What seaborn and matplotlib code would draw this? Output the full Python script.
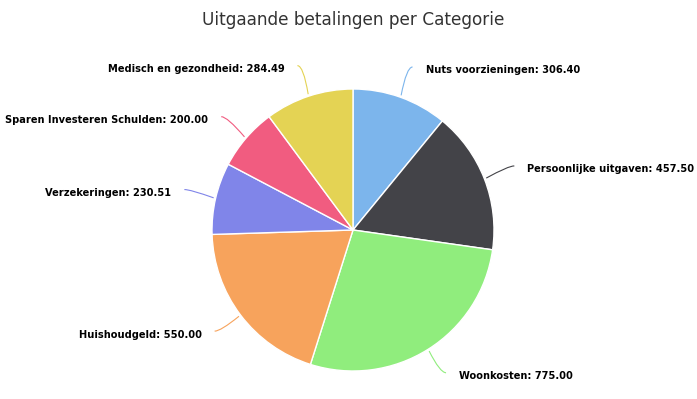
import numpy as np
import matplotlib
matplotlib.use("Agg")
import matplotlib.pyplot as plt
from matplotlib.path import Path
from matplotlib.patches import PathPatch
import seaborn as sns

categories = ["Nuts voorzieningen", "Persoonlijke uitgaven", "Woonkosten", "Huishoudgeld",
              "Verzekeringen", "Sparen Investeren Schulden", "Medisch en gezondheid"]
amounts = [306.40, 457.50, 775.00, 550.00, 230.51, 200.00, 284.49]
colors = ["#7cb5ec", "#434348", "#90ed7d", "#f7a35c", "#8085e9", "#f15c80", "#e4d354"]
title = "Uitgaande betalingen per Categorie"

sns.set_theme(style="white")
plt.rcParams['font.family'] = ['DejaVu Sans']

W, H = 697, 399
fig = plt.figure(figsize=(W / 100, H / 100), dpi=100)
ax = fig.add_axes([0, 0, 1, 1])
ax.set_xlim(0, W)
ax.set_ylim(0, H)
ax.axis("off")

cx, cy, r = 353, H - 230, 141
ax.pie(amounts, colors=colors, startangle=90, counterclock=False, center=(cx, cy), radius=r,
       wedgeprops=dict(edgecolor="white", linewidth=1))
ax.set_xlim(0, W)
ax.set_ylim(0, H)
ax.set_aspect("auto")

total = sum(amounts)
cum = np.cumsum([0] + amounts[:-1])
for name, val, c0, col in zip(categories, amounts, cum, colors):
    frac = (c0 + val / 2) / total
    ang = 2 * np.pi * frac  # clockwise from top
    dx, dy = np.sin(ang), np.cos(ang)
    ax_, ay_ = cx + (r + 30) * dx, cy + (r + 30) * dy
    ex, ey = cx + (r + 2) * dx, cy + (r + 2) * dy
    side = 1 if dx >= 0 else -1
    sx = ax_ + side * 2
    # soft connector
    verts = [(sx, ay_ + 2), (ax_ - side * 4, ay_ + 2), (ex, ey)]
    path = Path(verts, [Path.MOVETO, Path.CURVE3, Path.CURVE3])
    ax.add_patch(PathPatch(path, fill=False, edgecolor=col, linewidth=0.8))
    ax.text(ax_ + side * 15, ay_ - 1.5, f"{name}: {val:.2f}", fontsize=7.1, fontweight="bold",
            color="black", ha="left" if side > 0 else "right", va="center")

fig.text(353 / W, 1 - 20 / H, title, ha="center", va="center", fontsize=12.2, color="#333333")

fig.savefig("out.png", dpi=100)
